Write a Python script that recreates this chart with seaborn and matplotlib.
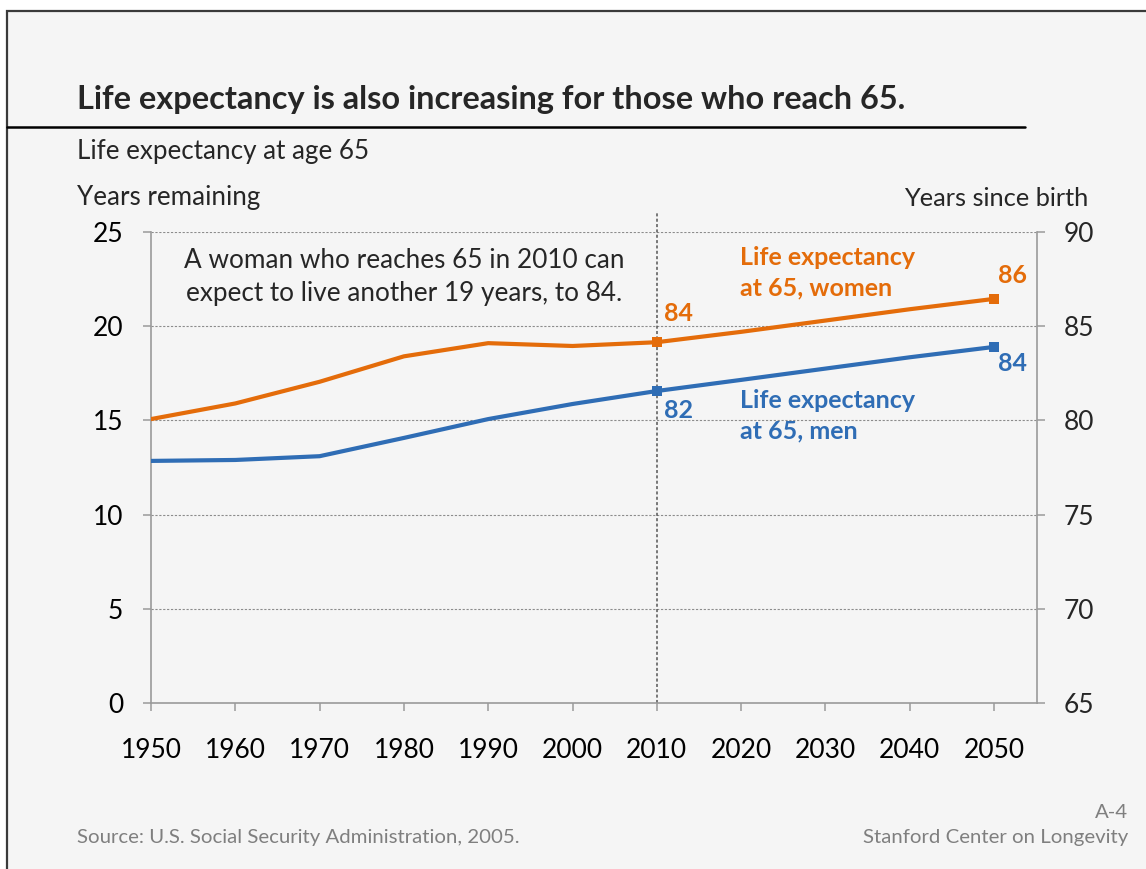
import numpy as np
import pandas as pd
import matplotlib
matplotlib.use("Agg")
import matplotlib.pyplot as plt
import seaborn as sns
from matplotlib.patches import Rectangle
from matplotlib.lines import Line2D

# ── Data ──
years = [1950, 1960, 1970, 1980, 1990, 2000, 2010, 2020, 2030, 2040, 2050]
women = [15.07, 15.9, 17.05, 18.4, 19.1, 18.95, 19.15, 19.7, 20.3, 20.9, 21.45]
men = [12.85, 12.9, 13.1, 14.07, 15.07, 15.87, 16.56, 17.15, 17.75, 18.35, 18.9]
marked_years = [2010, 2050]
left_ticks = [0, 5, 10, 15, 20, 25]
right_ticks = [65, 70, 75, 80, 85, 90]
AGE = 65

ORANGE = "#E46C0A"
BLUE = "#2F6DB5"
GRAY_TXT = "#7f7f7f"
BG = "#f5f5f5"

df = pd.DataFrame({"year": years * 2,
                   "value": women + men,
                   "sex": ["women"] * len(years) + ["men"] * len(years)})
palette = {"women": ORANGE, "men": BLUE}

sns.set_theme(style="white")
plt.rcParams["font.family"] = ["Lato", "DejaVu Sans"]

W, H = 1146, 869
fig = plt.figure(figsize=(W / 100, H / 100), dpi=100, facecolor="white")

# slide frame
fig.patches.append(Rectangle((7 / W, -0.2), 1.2, 1.2 - 11 / H, transform=fig.transFigure,
                             facecolor=BG, edgecolor="#3a3a3a", linewidth=1.6, zorder=-5))
fig.lines.append(Line2D([7 / W, 1025 / W], [1 - 127 / H] * 2, transform=fig.transFigure,
                        color="black", linewidth=1.8))

ax = fig.add_axes([151 / W, 1 - 703 / H, (1037 - 151) / W, (703 - 232) / H])
ax.set_facecolor(BG)

sns.lineplot(data=df, x="year", y="value", hue="sex", palette=palette,
             linewidth=3, legend=False, ax=ax, zorder=3)
marks = df[df["year"].isin(marked_years)]
sns.scatterplot(data=marks, x="year", y="value", hue="sex", palette=palette,
                marker="s", s=55, linewidth=0, legend=False, ax=ax, zorder=4)

ax.set_xlim(1950, 2055.1)
ax.set_ylim(0, 25)
ax.set_xticks(years)
ax.set_yticks(left_ticks)
ax.set_xlabel("")
ax.set_ylabel("")
for y in left_ticks[1:]:
    ax.axhline(y, color="#8c8c8c", linestyle=(0, (2, 1.5)), linewidth=0.8, zorder=1)
ax.axvline(2010, ymin=0, ymax=1.04, clip_on=False, color="#555555",
           linestyle=(0, (2, 1.5)), linewidth=1.1, zorder=2)

for side in ["top", "right"]:
    ax.spines[side].set_visible(False)
for side in ["left", "bottom"]:
    ax.spines[side].set_color("#9a9a9a")
    ax.spines[side].set_linewidth(1.2)
ax.tick_params(axis="both", direction="out", length=6, width=1.1, color="#9a9a9a",
               labelsize=19, labelcolor="black")
ax.tick_params(axis="x", pad=19, bottom=True)
ax.tick_params(axis="y", pad=14, left=True)

ax2 = ax.twinx()
ax2.set_ylim(right_ticks[0], right_ticks[-1])
ax2.set_yticks(right_ticks)
for side in ["top", "left", "bottom"]:
    ax2.spines[side].set_visible(False)
ax2.spines["right"].set_color("#9a9a9a")
ax2.spines["right"].set_linewidth(1.2)
ax2.tick_params(axis="y", direction="out", length=6, width=1.1, color="#9a9a9a",
                labelsize=19, pad=13, right=True)
ax2.grid(False)

# data labels
label_offsets = {("women", 2010): (5, 21), ("women", 2050): (3, 17),
                 ("men", 2010): (5, -14), ("men", 2050): (3, -12)}
for sex, vals in [("women", women), ("men", men)]:
    for yr in marked_years:
        v = vals[years.index(yr)]
        dx, dy = label_offsets[(sex, yr)]
        ax.annotate(f"{round(v + AGE)}", (yr, v), xytext=(dx, dy), textcoords="offset points",
                    ha="left", va="center", fontsize=18, fontweight="bold", color=palette[sex])

ax.text(2019.9, 24.25, "Life expectancy\nat 65, women", color=ORANGE, fontsize=18,
        fontweight="bold", ha="left", va="top", linespacing=1.4)
ax.text(2019.9, 16.65, "Life expectancy\nat 65, men", color=BLUE, fontsize=18,
        fontweight="bold", ha="left", va="top", linespacing=1.4)
ax.text(1980.0, 24.15, "A woman who reaches 65 in 2010 can\nexpect to live another 19 years, to 84.",
        fontsize=18.8, ha="center", va="top", linespacing=1.42)

# titles and notes
fig.text(77 / W, 1 - 100 / H, "Life expectancy is also increasing for those who reach 65.",
         fontsize=23.4, fontweight="bold", ha="left", va="center")
fig.text(77 / W, 1 - 152 / H, "Life expectancy at age 65", fontsize=18.7, ha="left", va="center")
fig.text(77 / W, 1 - 198 / H, "Years remaining", fontsize=18.7, ha="left", va="center")
fig.text(1088 / W, 1 - 198 / H, "Years since birth", fontsize=18.3, ha="right", va="center")
fig.text(77 / W, 1 - 838 / H, "Source: U.S. Social Security Administration, 2005.",
         fontsize=14.7, color=GRAY_TXT, ha="left", va="center")
fig.text(1128 / W, 1 - 812 / H, "A-4", fontsize=14.7, color=GRAY_TXT, ha="right", va="center")
fig.text(1128 / W, 1 - 838 / H, "Stanford Center on Longevity", fontsize=14.7,
         color=GRAY_TXT, ha="right", va="center")

fig.savefig("out.png", dpi=100, facecolor=fig.get_facecolor())
